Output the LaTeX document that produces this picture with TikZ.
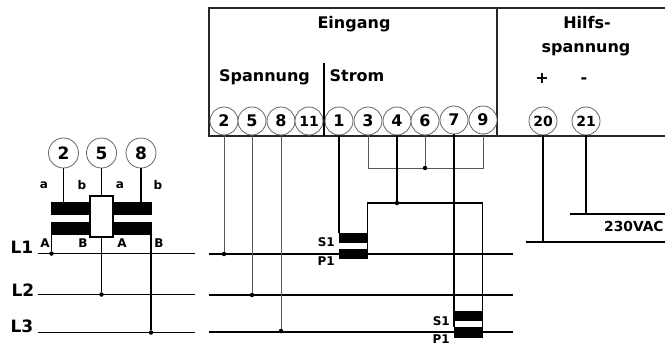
\documentclass[tikz,border=0pt]{standalone}
\usepackage{fontspec}
\setmainfont{DejaVu Sans}
\begin{document}
\begin{tikzpicture}[x=1pt,y=-1pt,
  line cap=butt,
  wire/.style={draw=black,line width=1.25pt},
  thin wire/.style={draw=black!65,line width=1pt},
  frame/.style={draw=black!85,line width=1.3pt},
  term/.style={circle,draw=black!60,line width=0.8pt,fill=white,minimum size=28pt,inner sep=0pt,font=\fontsize{16}{17}\selectfont\bfseries},
  termtwo/.style={term,font=\fontsize{14}{15}\selectfont\bfseries},
  termb/.style={term,minimum size=30pt,font=\fontsize{17}{18}\selectfont\bfseries},
  junction/.style={circle,fill=black,minimum size=4.5pt,inner sep=0pt},
  core/.style={fill=black,draw=none,minimum width=29pt,minimum height=10pt,inner sep=0pt},
  score/.style={fill=black,draw=none,minimum width=39pt,minimum height=13pt,inner sep=0pt},
  head/.style={font=\fontsize{16}{17}\selectfont\bfseries,inner sep=0pt},
  small/.style={font=\fontsize{12}{13}\selectfont\bfseries,inner sep=0pt},
  phase/.style={font=\fontsize{17}{18}\selectfont\bfseries,inner sep=0pt}]
\useasboundingbox (0,0) rectangle (665,345);
\clip (0,0) rectangle (665,345);
\fill[white] (0,0) rectangle (665,345);

% housing
\coordinate (boxTL) at (209,8);
\coordinate (boxBL) at (209,136);
\coordinate (boxTR) at (665,8);
\coordinate (boxBR) at (665,136);
\coordinate (divT) at (497,8);
\coordinate (divB) at (497,136);
\coordinate (subT) at (324,63);
\coordinate (subB) at (324,136);
\draw[frame] (boxTR) -- (boxTL) -- (boxBL) -- (boxBR);
\draw[frame] (divT) -- (divB);
\draw[wire] (subT) -- (subB);

\node[head] at (354,24) {Eingang};
\node[head] at (264.5,77) {Spannung};
\node[head] at (357,76) {Strom};
\node[head] at (587,23) {Hilfs-};
\node[head] at (586,50) {spannung};
\node[head] at (542,78) {+};
\node[head] at (584,81) {-};

% phases, right part
\coordinate (RL1a) at (209,254); \coordinate (RL1b) at (513,254);
\coordinate (RL2a) at (209,295); \coordinate (RL2b) at (513,295);
\coordinate (RL3a) at (209,332); \coordinate (RL3b) at (513,332);
\draw[wire] (RL1a) -- (RL1b);
\draw[wire] (RL2a) -- (RL2b);
\draw[wire] (RL3a) -- (RL3b);

% current transformers
\node[core] (ct1s) at (353.5,238) {};
\node[core] (ct1p) at (353.5,254) {};
\node[core,minimum height=10.5pt] (ct2s) at (468.5,316) {};
\node[core,minimum height=11pt] (ct2p) at (468.5,332.5) {};
\node[small,anchor=east] at (335,242) {S1};
\node[small,anchor=east] at (335,261) {P1};
\node[small,anchor=east] at (450,321) {S1};
\node[small,anchor=east] at (450,339) {P1};

% junctions
\node[junction] (j2) at (224,254) {};
\node[junction] (j5) at (252,295) {};
\node[junction] (j8) at (281,331) {};
\node[junction] (j369) at (425,168) {};
\node[junction] (j4) at (397,203) {};

% terminals
\foreach \n/\x in {2/224,5/252,8/281}
  \node[term] (t\n) at (\x,121) {\n};
\node[termtwo] (t11) at (309,121) {11};
\foreach \n/\x/\y in {1/339/121,3/368/121,4/397/121,6/425/121,7/454/120,9/483/120}
  \node[term] (t\n) at (\x,\y) {\n};
\node[termtwo] (t20) at (543,121) {20};
\node[termtwo] (t21) at (586,121) {21};

% terminal wiring
\draw[thin wire] (t2.south) -- (j2);
\draw[thin wire] (t5.south) -- (j5);
\draw[thin wire] (t8.south) -- (j8);
\draw[wire] (t1.south) -- (t1.south |- ct1s.north);
\draw[thin wire] (t3.south) |- (j369);
\draw[thin wire] (t9.south) |- (j369);
\draw[thin wire] (t6.south) -- (j369);
\draw[wire] (t4.south) -- (j4);
\coordinate (c2) at (482.5,203);
\draw[wire] (ct1p.south east) ++(-0.5,0) |- (j4);
\draw[wire] (j4) -- (c2) -- (c2 |- ct2p.south);
\draw[wire] (t7.south) -- (t7.south |- ct2p.north);

% auxiliary supply
\coordinate (aux21a) at (570,214); \coordinate (aux21b) at (665,214);
\coordinate (aux20a) at (526,242); \coordinate (aux20b) at (665,242);
\draw[wire] (aux21a) -- (aux21b);
\draw[wire] (aux20a) -- (aux20b);
\draw[wire] (t21.south) -- (t21.south |- aux21a);
\draw[wire] (t20.south) -- (t20.south |- aux20a);
\node[anchor=west,inner sep=0pt,font=\fontsize{13.8}{15}\selectfont\bfseries] at (604,226) {230VAC};

% left: phases
\coordinate (LL1a) at (38,253.5); \coordinate (LL1b) at (195,253.5);
\coordinate (LL2a) at (38,294.5); \coordinate (LL2b) at (195,294.5);
\coordinate (LL3a) at (38,332.5); \coordinate (LL3b) at (195,332.5);
\draw[wire] (LL1a) -- (LL1b);
\draw[wire] (LL2a) -- (LL2b);
\draw[wire] (LL3a) -- (LL3b);
\node[phase] at (22,247) {L1};
\node[phase] at (23,290) {L2};
\node[phase] at (22,326) {L3};

% left: voltage transformers
\node[score] (vt1s) at (70.5,208.5) {};
\node[score] (vt1p) at (70.5,228) {};
\node[score] (vt2s) at (132.5,208.5) {};
\node[score] (vt2p) at (132.5,228) {};
\node[draw=black,line width=1.25pt,fill=white,minimum width=23pt,minimum height=41pt,inner sep=0pt] (link) at (101.5,216.5) {};
\node[termb] (u2) at (63.5,153) {2};
\node[termb] (u5) at (101.5,153) {5};
\node[termb] (u8) at (141,153) {8};
\node[junction] (k1) at (51.5,253.5) {};
\node[junction] (k2) at (101.5,294.5) {};
\node[junction] (k3) at (151,332.5) {};
\draw[wire] (u2.south) -- (u2.south |- vt1s.north);
\draw[wire] (u5.south) -- (link.north);
\draw[wire] (u8.south) -- (u8.south |- vt2s.north);
\draw[wire] (link.south) -- (k2);
\draw[wire] (k1 |- vt1p.south) -- (k1);
\draw[wire] (k3 |- vt2p.south) -- (k3);
\foreach \t/\x/\y in {a/44/185,b/82/185,a/120/185,b/158/185,A/45/243,B/83/243,A/122/243,B/159/243}
  \node[small] at (\x,\y) {\t};
\end{tikzpicture}
\end{document}
